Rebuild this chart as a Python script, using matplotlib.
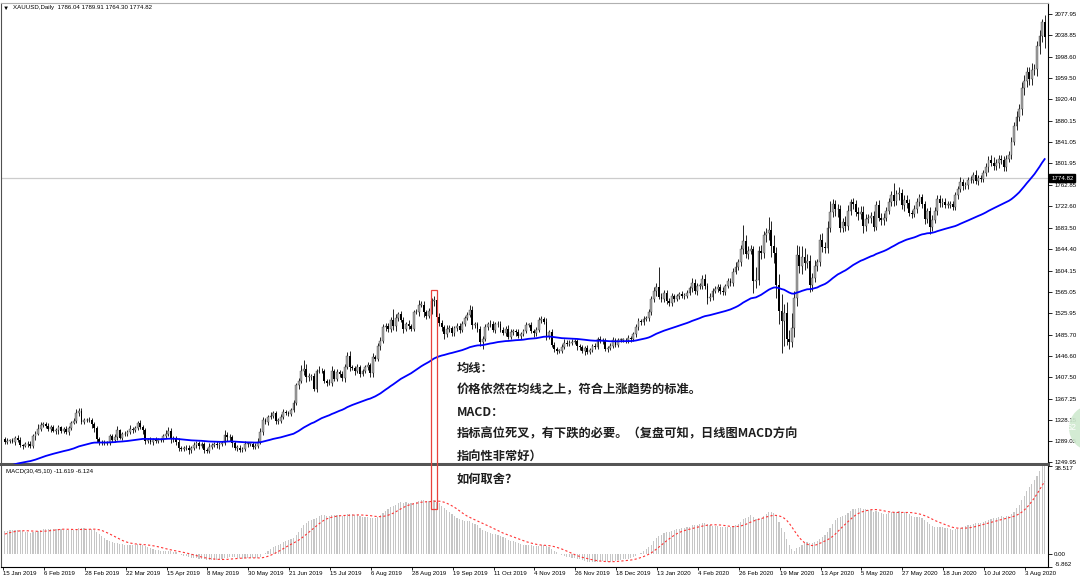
import numpy as np
import pandas as pd
import matplotlib
matplotlib.use("Agg")
import matplotlib.pyplot as plt
from matplotlib.patches import Rectangle, Ellipse
from matplotlib.transforms import blended_transform_factory

plt.rcParams['font.family'] = ['Liberation Sans', 'DejaVu Sans']

# XAUUSD 日线收盘价 (2018-09 ~ 2019-01-09 只用来预热均线和MACD)
close_2018 = [
    1193, 1197, 1200, 1195, 1195, 1191, 1203, 1202, 1194, 1199, 1198, 1203, 1208, 1200, 1200, 1202, 1195, 1182, 1192,
    1189, 1204, 1202, 1200, 1203, 1188, 1190, 1194, 1226, 1218, 1231, 1226, 1222, 1227, 1226, 1222, 1236, 1232, 1232, 1235, 1228, 1223, 1214,
    1234, 1233, 1230, 1227, 1226, 1224, 1209, 1200, 1201, 1211, 1214, 1222, 1224, 1222, 1227, 1227, 1223, 1222, 1212, 1221, 1224, 1222,
    1231, 1238, 1237, 1238, 1248, 1244, 1244, 1243, 1241, 1238, 1246, 1249, 1242, 1258, 1257, 1269, 1268, 1277, 1281, 1282,
]
close_2019 = [
    1284, 1294, 1285, 1289, 1284, 1293, 1287, 1289, 1291, 1288, 1294, 1292, 1282, 1280, 1283, 1283, 1280, 1298, 1303, 1312, 1319, 1321,
    1317, 1312, 1315, 1307, 1309, 1315, 1308, 1311, 1306, 1313, 1322, 1327, 1341, 1345, 1324, 1328, 1328, 1328, 1320, 1313,
    1293, 1287, 1286, 1286, 1286, 1299, 1292, 1297, 1309, 1295, 1302, 1303, 1306, 1312, 1310, 1313, 1322, 1315, 1310, 1290, 1292,
    1287, 1291, 1290, 1291, 1291, 1298, 1303, 1307, 1293, 1295, 1288, 1276, 1274, 1276, 1277, 1272, 1276, 1281, 1286, 1280, 1283,
    1273, 1271, 1279, 1282, 1284, 1281, 1284, 1285, 1301, 1296, 1297, 1286, 1277, 1277, 1273, 1274, 1284, 1284, 1284, 1279, 1280, 1288, 1305,
    1328, 1325, 1334, 1336, 1341, 1327, 1327, 1334, 1342, 1341, 1340, 1346, 1359, 1392, 1400, 1419, 1423, 1408, 1408, 1409,
    1385, 1418, 1419, 1418, 1400, 1396, 1397, 1419, 1404, 1416, 1413, 1405, 1426, 1446, 1426, 1424, 1418, 1426, 1413, 1419, 1426, 1430, 1414,
    1445, 1441, 1464, 1474, 1500, 1501, 1497, 1512, 1501, 1517, 1523, 1513, 1496, 1506, 1502, 1497, 1527, 1527, 1541, 1541, 1527, 1520,
    1529, 1547, 1550, 1519, 1507, 1499, 1486, 1497, 1498, 1488, 1498, 1501, 1494, 1505, 1516, 1522, 1532, 1504, 1505, 1497, 1472,
    1478, 1500, 1506, 1505, 1494, 1505, 1505, 1495, 1489, 1497, 1482, 1491, 1493, 1490, 1484, 1487, 1492, 1504, 1504, 1493, 1488, 1495, 1513,
    1514, 1510, 1484, 1491, 1467, 1459, 1456, 1456, 1463, 1471, 1468, 1471, 1472, 1474, 1464, 1462, 1455, 1461, 1454, 1457, 1464,
    1463, 1477, 1474, 1475, 1460, 1461, 1465, 1475, 1467, 1476, 1476, 1476, 1475, 1479, 1478, 1486, 1499, 1511, 1510, 1515, 1517,
]
close_2020 = [
    1528, 1552, 1566, 1574, 1556, 1552, 1562, 1548, 1545, 1557, 1552, 1557, 1560, 1558, 1558, 1563, 1571, 1582, 1567, 1576, 1576, 1589,
    1576, 1553, 1556, 1566, 1570, 1573, 1567, 1565, 1576, 1584, 1581, 1602, 1611, 1620, 1643, 1659, 1635, 1641, 1643, 1585,
    1587, 1640, 1637, 1669, 1673, 1679, 1649, 1636, 1577, 1529, 1511, 1526, 1477, 1472, 1498, 1553, 1632, 1612, 1629, 1618, 1621, 1577,
    1591, 1613, 1620, 1661, 1648, 1645, 1683, 1713, 1727, 1717, 1717, 1683, 1694, 1687, 1714, 1730, 1727, 1713, 1708, 1713, 1686,
    1700, 1702, 1705, 1685, 1725, 1702, 1697, 1702, 1715, 1730, 1743, 1733, 1745, 1748, 1725, 1735, 1728, 1710, 1709, 1718, 1730,
    1740, 1727, 1700, 1714, 1685, 1698, 1715, 1737, 1728, 1730, 1726, 1726, 1727, 1722, 1743, 1755, 1768, 1761, 1762, 1771, 1772, 1781,
    1770, 1775, 1774, 1784, 1795, 1809, 1803, 1798, 1802, 1810, 1808, 1796, 1810, 1817, 1842, 1871, 1888, 1902, 1941, 1955, 1970, 1958, 1975,
    1976, 2019, 2037, 2063, 2035,
]

# 上/下影线长度, 36进制一位 = 2 美元, 每月一串, 空格分周 (从 2019-01-10 起)
wick_up_2019 = ["23 12232 12332 2432", "2 32222 12322 24332 2322", "2 22322 23412 22322 23221",
                "22322 23432 2322 22232 22", "223 22322 42322 22232 22334", "32232 22332 22323 58432",
                "32432 23423 23345 22322 232", "32 34333 3b323 32322 34332", "33423 32332 23332 34322 2",
                "3323 32332 23322 32232 3223", "3 23233 22332 23222 22322", "32322 23322 22232 2332 32"]
wick_dn_2019 = ["22 21322 31222 3122", "2 23123 22232 12322 2234", "3 32222 22312 22232 22432",
                "23222 22243 3322 23222 32", "322 22232 23342 32223 22222", "22322 33222 22223 24543",
                "23222 32322 32324 23232 233", "32 23243 33432 42322 23243", "23443 34232 23322 22433 4",
                "6233 23322 32233 23222 2322", "3 24323 32222 22232 23222", "22232 32222 22223 2223 32"]
wick_up_2020 = ["33 44i33 33322 23232 43333", "43333 33323 33434 f5443", "c5645 c8a6a g8a9e 7a9a8 76",
                "453 5646 a5454 45634 4455", "4 34545 44344 b4534 44344", "33334 43334 43333 34333 33",
                "433 34345 44444 44455 65556", "55637"]
wick_dn_2020 = ["33 34233 33332 32322 33433", "35332 33332 33234 4453b", "75656 6a9cc un565 87676 56",
                "545 4544 45674 45445 4546", "4 45433 44333 54545 43434", "34547 43433 33333 33434 33",
                "343 33434 44444 33344 56666", "5675a"]
WICK_UNIT = 2.0

holidays = ["2018-12-25", "2019-01-01", "2019-04-19", "2019-12-25", "2020-01-01", "2020-04-10"]
first_shown = "2019-01-10"

price_ticks = ["2077.95", "2038.85", "1998.60", "1959.50", "1920.40", "1880.15", "1841.05", "1801.95",
               "1762.85", "1722.60", "1683.50", "1644.40", "1604.15", "1565.05", "1525.95", "1485.70",
               "1446.60", "1407.50", "1367.25", "1328.15", "1289.05", "1249.95"]
last_price = 1774.82
macd_ticks = [38.517, 0.0, -5.862]
macd_tick_labels = ["38.517", "0.00", "-5.862"]
date_labels = ["15 Jan 2019", "6 Feb 2019", "28 Feb 2019", "22 Mar 2019", "15 Apr 2019", "8 May 2019",
               "30 May 2019", "21 Jun 2019", "15 Jul 2019", "6 Aug 2019", "28 Aug 2019", "19 Sep 2019",
               "11 Oct 2019", "4 Nov 2019", "26 Nov 2019", "18 Dec 2019", "13 Jan 2020", "4 Feb 2020",
               "26 Feb 2020", "19 Mar 2020", "13 Apr 2020", "5 May 2020", "27 May 2020", "18 Jun 2020",
               "10 Jul 2020", "3 Aug 2020"]

notes = ["均线：", "价格依然在均线之上，符合上涨趋势的标准。", "MACD：",
         "指标高位死叉，有下跌的必要。（复盘可知，日线图MACD方向", "指向性非常好）", "如何取舍？"]
note_y = [368, 390, 412, 434, 456, 479]


def decode(months):
    s = "".join(m.replace(" ", "") for m in months)
    return np.array([int(ch, 36) for ch in s], dtype=float)


# 日期 / 指标
dates = pd.bdate_range("2018-09-04", "2020-08-07")
dates = dates[~dates.isin(pd.to_datetime(holidays))]
closes = close_2018 + close_2019 + close_2020
assert len(closes) == len(dates), (len(closes), len(dates))
close = pd.Series(closes, index=dates, dtype=float)

ma = close.ewm(span=70, adjust=False).mean()
macd = close.ewm(span=30, adjust=False).mean() - close.ewm(span=45, adjust=False).mean()
signal = macd.rolling(10).mean()

shown = close.index >= pd.Timestamp(first_shown)
vis_dates = close.index[shown]
c = close[shown].values
o = close.shift(1)[shown].values
up = decode(wick_up_2019 + wick_up_2020) * WICK_UNIT
dn = decode(wick_dn_2019 + wick_dn_2020) * WICK_UNIT
assert len(up) == len(c) and len(dn) == len(c), (len(up), len(dn), len(c))
hi = np.maximum(o, c) + up
lo = np.minimum(o, c) - dn
x = np.arange(len(c))

W, H = 1080, 584
fig = plt.figure(figsize=(W / 100, H / 100), dpi=100)
fig.patch.set_facecolor("white")


def box(l, t, r, b):
    return [l / W, 1 - b / H, (r - l) / W, (b - t) / H]


ax = fig.add_axes(box(1, 3, 1048, 464))
axm = fig.add_axes(box(1, 466, 1048, 567))
xlim = (-1.5, 408.3)

# 蜡烛图
bull = c >= o
body_lo = np.minimum(o, c)
body_h = np.maximum(np.abs(c - o), 0.9)
ax.vlines(x, lo, hi, color="black", lw=0.6, zorder=2)
ax.bar(x[bull], body_h[bull], bottom=body_lo[bull], width=0.72, color="#a6a6a6",
       edgecolor="#303030", linewidth=0.25, zorder=3)
ax.bar(x[~bull], body_h[~bull], bottom=body_lo[~bull], width=0.72, color="black", zorder=3)
ax.plot(x, ma[shown].values, color="#0000ff", lw=1.3, zorder=4)
ax.axhline(last_price, color="#cccccc", lw=0.9, zorder=1)

ax.set_xlim(xlim)
ax.set_ylim(1246.8, 2098.3)
ax.set_xticks([])
ax.yaxis.tick_right()
ax.set_yticks([float(v) for v in price_ticks])
ax.set_yticklabels(price_ticks)
ax.tick_params(axis="y", length=3, width=0.6, labelsize=4.4, pad=1.5)
ax.spines["top"].set_color("#b0b0b0")
ax.spines["left"].set_color("#505050")
ax.spines["right"].set_color("black")
ax.spines["right"].set_linewidth(0.8)
ax.spines["bottom"].set_color("#555555")
ax.spines["bottom"].set_linewidth(2.2)

ax.text(1.003, last_price, f"{last_price:.2f}", transform=blended_transform_factory(ax.transAxes, ax.transData),
        ha="left", va="center", fontsize=4.4, color="white", clip_on=False, zorder=10,
        bbox=dict(boxstyle="square,pad=0.3", fc="black", ec="black"))

# MACD
axm.bar(x, macd[shown].values, width=0.45, color="#c6c6c6", zorder=2)
axm.plot(x, signal[shown].values, color="#ff3333", lw=0.8, linestyle=(0, (2, 2)), zorder=3)
axm.set_xlim(xlim)
axm.set_ylim(macd_ticks[-1], macd_ticks[0])
axm.yaxis.tick_right()
axm.set_yticks(macd_ticks)
axm.set_yticklabels(macd_tick_labels)
axm.tick_params(axis="y", length=3, width=0.6, labelsize=4.4, pad=1.5)
ylabs = axm.get_yticklabels()
ylabs[0].set_va("top")
ylabs[-1].set_va("bottom")

LABEL_SHIFT = -3.7
pos = [vis_dates.get_loc(pd.Timestamp(d)) + LABEL_SHIFT for d in pd.to_datetime(date_labels, format="%d %b %Y")]
axm.set_xticks(pos)
axm.set_xticklabels(date_labels)
axm.tick_params(axis="x", length=2, width=0.6, labelsize=4.4, pad=1)
for t in axm.get_xticklabels():
    t.set_ha("left")
axm.spines["top"].set_visible(False)
axm.spines["left"].set_color("#505050")
axm.spines["right"].set_linewidth(0.8)
axm.spines["bottom"].set_linewidth(0.8)

# 表头
fig.text(3 / W, 1 - 8 / H, "▼", fontsize=4.5, va="center", ha="left", color="black")
fig.text(13 / W, 1 - 8 / H, "XAUUSD,Daily  1786.04 1789.91 1764.30 1774.82", fontsize=4.4, va="center", ha="left")
fig.text(6 / W, 1 - 472 / H, "MACD(30,45,10) -11.619 -6.124", fontsize=4.4, va="center", ha="left")

# 红框: 2019-09-04 高位
i_mark = vis_dates.get_loc(pd.Timestamp("2019-09-04"))
to_fig = fig.transFigure.inverted()
x0, y_top = to_fig.transform(ax.transData.transform((i_mark - 1.2, 1569)))
x1, _ = to_fig.transform(ax.transData.transform((i_mark + 1.2, 1569)))
_, y_bot = to_fig.transform(axm.transData.transform((i_mark, 19.5)))
fig.add_artist(Rectangle((x0, y_bot), x1 - x0, y_top - y_bot, transform=fig.transFigure,
                         fill=False, ec="#e8413c", lw=0.9, zorder=20))

# 文字说明
for s, yy in zip(notes, note_y):
    fig.text(457 / W, 1 - yy / H, s, fontsize=8.8, fontweight="bold", color="#1e1e1e",
             family=["Noto Sans CJK SC", "DejaVu Sans"], va="center", ha="left", zorder=30)

# 右侧浮动按钮
fig.add_artist(Ellipse((1092 / W, 1 - 428 / H), 46 / W, 46 / H, transform=fig.transFigure,
                       fc="#cfe9cf", ec="none", alpha=0.9, zorder=25))
fig.text(1067 / W, 1 - 428 / H, "52", fontsize=6.5, color="white", va="center", ha="left", zorder=26)

fig.savefig("out.png", dpi=100, facecolor="white")
